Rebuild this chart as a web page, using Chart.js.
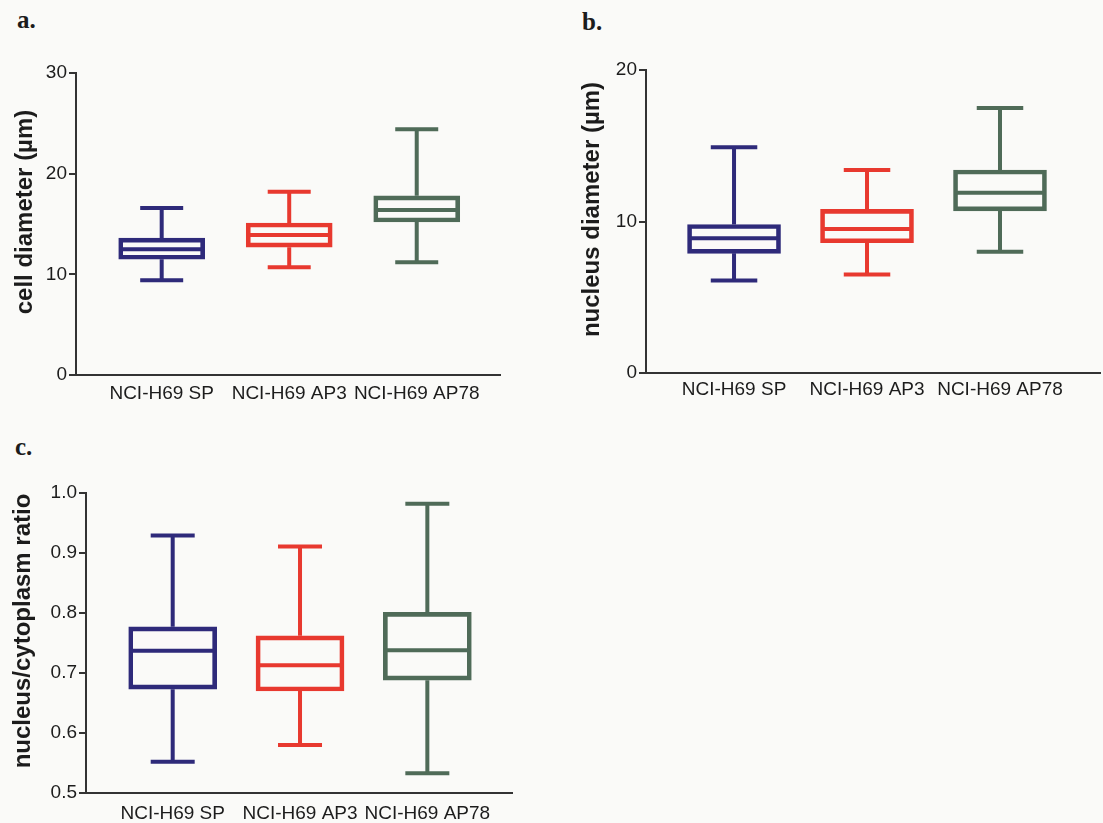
<!DOCTYPE html>
<html><head><meta charset="utf-8">
<script src="https://cdn.jsdelivr.net/npm/chart.js@4.4.1/dist/chart.umd.min.js"></script>
<style>
html,body{margin:0;padding:0;background:#fafaf8;}
body{width:1103px;height:823px;position:relative;overflow:hidden;font-family:"Liberation Sans",Arial,sans-serif;}
canvas{position:absolute;}
.lbl{position:absolute;font-family:"Liberation Serif","Times New Roman",serif;font-weight:bold;font-size:25px;line-height:24px;color:#1c1c1c;}
</style></head><body>
<div class="lbl" style="left:17px;top:8px">a.</div>
<div class="lbl" style="left:582px;top:10px">b.</div>
<div class="lbl" style="left:15px;top:435px">c.</div>
<canvas id="ca" width="520" height="360" style="left:0;top:55px"></canvas>
<canvas id="cb" width="543" height="363" style="left:560px;top:50px"></canvas>
<canvas id="cc" width="530" height="348" style="left:0;top:475px"></canvas>
<script>
// ---- data ----
const categories = ['NCI-H69 SP', 'NCI-H69 AP3', 'NCI-H69 AP78'];
const seriesColors = ['#2e2a7a', '#e8392f', '#4f6b58'];

// a. cell diameter (µm)
const cellMin    = [9.4, 10.7, 11.2];
const cellQ1     = [11.5, 12.7, 15.2];
const cellMedian = [12.5, 13.9, 16.4];
const cellQ3     = [13.6, 15.1, 17.8];
const cellMax    = [16.6, 18.2, 24.4];
const cellTicks  = [0, 10, 20, 30];

// b. nucleus diameter (µm)
const nucMin    = [6.1, 6.5, 8.0];
const nucQ1     = [7.9, 8.6, 10.7];
const nucMedian = [8.9, 9.5, 11.9];
const nucQ3     = [9.8, 10.8, 13.4];
const nucMax    = [14.9, 13.4, 17.5];
const nucTicks  = [0, 10, 20];

// c. nucleus/cytoplasm ratio
const ratioMin    = [0.552, 0.580, 0.533];
const ratioQ1     = [0.673, 0.670, 0.688];
const ratioMedian = [0.737, 0.713, 0.738];
const ratioQ3     = [0.777, 0.762, 0.801];
const ratioMax    = [0.929, 0.911, 0.982];
const ratioTicks  = [0.5, 0.6, 0.7, 0.8, 0.9, 1.0];

// ---- plugins ----
const whiskerPlugin = {
  id: 'whiskers',
  afterDatasetsDraw(chart, args, opts) {
    const ctx = chart.ctx, xs = chart.scales.x, ys = chart.scales.y;
    ctx.save();
    ctx.lineWidth = opts.lineWidth;
    ctx.lineCap = 'butt';
    opts.median.forEach((m, i) => {
      const x = xs.getPixelForValue(i);
      const half = opts.boxWidth / 2, cap = opts.capWidth / 2;
      ctx.strokeStyle = opts.colors[i];
      const yMin = ys.getPixelForValue(opts.min[i]);
      const yMax = ys.getPixelForValue(opts.max[i]);
      const yQ1 = ys.getPixelForValue(opts.q1[i]);
      const yQ3 = ys.getPixelForValue(opts.q3[i]);
      const yMed = ys.getPixelForValue(m);
      ctx.beginPath();
      ctx.moveTo(x, yQ3); ctx.lineTo(x, yMax);
      ctx.moveTo(x, yQ1); ctx.lineTo(x, yMin);
      ctx.moveTo(x - cap, yMax); ctx.lineTo(x + cap, yMax);
      ctx.moveTo(x - cap, yMin); ctx.lineTo(x + cap, yMin);
      ctx.moveTo(x - half + 1, yMed); ctx.lineTo(x + half - 1, yMed);
      ctx.stroke();
    });
    ctx.restore();
  }
};
const yTitlePlugin = {
  id: 'ytitle',
  afterDraw(chart, args, opts) {
    const ctx = chart.ctx, a = chart.chartArea;
    ctx.save();
    ctx.translate(opts.x, (a.top + a.bottom) / 2 + opts.dy);
    ctx.rotate(-Math.PI / 2);
    ctx.font = 'bold 24px "Liberation Sans", Arial, sans-serif';
    ctx.fillStyle = '#1c1c1c';
    ctx.textAlign = 'center';
    ctx.textBaseline = 'middle';
    ctx.fillText(opts.text, 0, 0);
    ctx.restore();
  }
};

function makePanel(id, data, cfg) {
  const axisColor = '#333333';
  const tickFont = { family: '"Liberation Sans", Arial, sans-serif', size: 19 };
  new Chart(document.getElementById(id), {
    type: 'bar',
    data: {
      datasets: [{
        data: categories.map((c, i) => ({ x: i, y: [data.q1[i], data.q3[i]] })),
        borderColor: seriesColors,
        backgroundColor: 'rgba(255,255,255,0)',
        borderWidth: 4,
        borderSkipped: false,
        barThickness: cfg.boxWidth
      }]
    },
    options: {
      responsive: false,
      animation: false,
      devicePixelRatio: 1,
      layout: { padding: { top: cfg.padTop, right: cfg.padRight, left: 0, bottom: 0 } },
      plugins: {
        legend: { display: false },
        tooltip: { enabled: false },
        whiskers: {
          min: data.min, q1: data.q1, median: data.median, q3: data.q3, max: data.max,
          colors: seriesColors, lineWidth: 4, boxWidth: cfg.boxWidth, capWidth: cfg.boxWidth * 0.5
        },
        ytitle: { text: cfg.title, x: cfg.titleX, dy: -12 }
      },
      scales: {
        x: {
          type: 'linear', min: cfg.xMin, max: cfg.xMax, offset: false,
          afterBuildTicks: s => { s.ticks = categories.map((c, i) => ({ value: i })); },
          afterFit: s => { s.height = cfg.xAxisHeight; },
          ticks: {
            callback: v => categories[v] !== undefined ? categories[v] : '',
            font: tickFont, color: '#1c1c1c', padding: cfg.xLabelPad,
            autoSkip: false, maxRotation: 0, minRotation: 0
          },
          grid: { display: false, drawTicks: false },
          border: { display: true, color: axisColor, width: 2 }
        },
        y: {
          min: data.ticks[0], max: data.ticks[data.ticks.length - 1],
          afterBuildTicks: s => { s.ticks = data.ticks.map(v => ({ value: v })); },
          afterFit: s => { s.width = cfg.yAxisWidth; },
          ticks: {
            callback: v => cfg.decimals ? Number(v).toFixed(cfg.decimals) : String(v),
            font: tickFont, color: '#1c1c1c', padding: 2
          },
          grid: { display: true, drawOnChartArea: false, drawTicks: true, tickLength: 7, color: axisColor, lineWidth: 2 },
          border: { display: true, color: axisColor, width: 2 }
        }
      }
    },
    plugins: [whiskerPlugin, yTitlePlugin]
  });
}

makePanel('ca',
  { min: cellMin, q1: cellQ1, median: cellMedian, q3: cellQ3, max: cellMax, ticks: cellTicks },
  { title: 'cell diameter (µm)', titleX: 25, padTop: 18, padRight: 20, yAxisWidth: 76, xAxisHeight: 40,
    xMin: -0.672, xMax: 2.653, boxWidth: 86, xLabelPad: 7, decimals: 0 });

makePanel('cb',
  { min: nucMin, q1: nucQ1, median: nucMedian, q3: nucQ3, max: nucMax, ticks: nucTicks },
  { title: 'nucleus diameter (µm)', titleX: 32, padTop: 20, padRight: 3, yAxisWidth: 86, xAxisHeight: 40,
    xMin: -0.662, xMax: 2.752, boxWidth: 93, xLabelPad: 5, decimals: 0 });

makePanel('cc',
  { min: ratioMin, q1: ratioQ1, median: ratioMedian, q3: ratioQ3, max: ratioMax, ticks: ratioTicks },
  { title: 'nucleus/cytoplasm ratio', titleX: 23, padTop: 18, padRight: 18, yAxisWidth: 86, xAxisHeight: 30,
    xMin: -0.681, xMax: 2.665, boxWidth: 88, xLabelPad: 9, decimals: 1 });
</script>
</body></html>
